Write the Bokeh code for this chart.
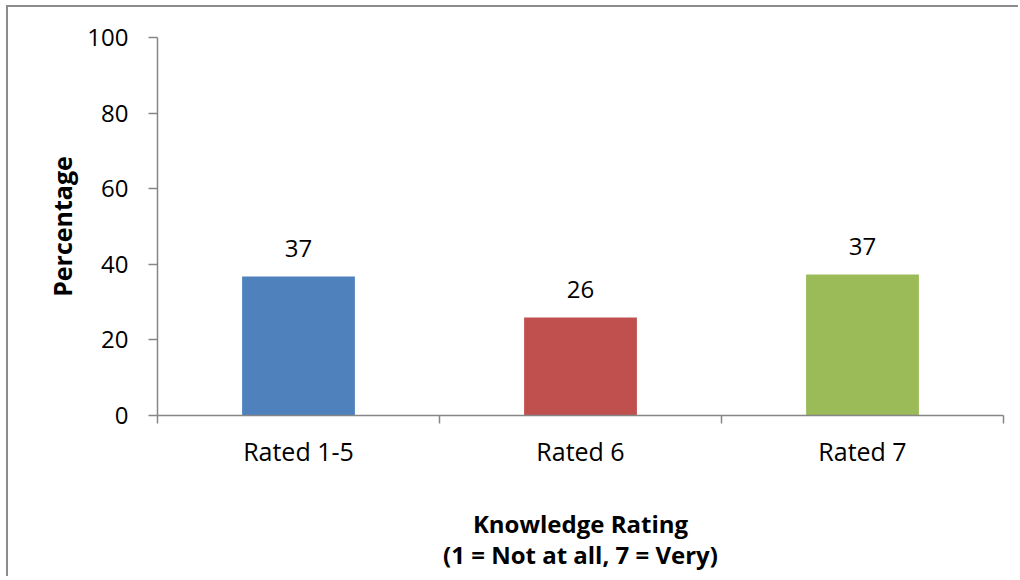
from bokeh.plotting import figure
from bokeh.models import FixedTicker, ColumnDataSource, Range1d
from bokeh.embed import file_html
from bokeh.resources import INLINE
from bokeh.core.properties import value

# ---- data ----
categories = ["Rated 1-5", "Rated 6", "Rated 7"]
percentages = [36.8, 25.9, 37.3]
bar_labels = ["37", "26", "37"]
colors = ["#4F81BD", "#C0504D", "#9BBB59"]
y_ticks = [0, 20, 40, 60, 80, 100]

FONT = "Open Sans"
AXIS_GRAY = "#868686"

xs = [i + 0.5 for i in range(len(categories))]
src = ColumnDataSource(dict(x=xs, top=percentages, color=colors, label=bar_labels))

p = figure(width=1012, height=571, output_backend="svg", toolbar_location=None,
           x_range=Range1d(0, len(categories)), y_range=Range1d(0, 100),
           min_border_left=149, min_border_right=17, min_border_top=30, min_border_bottom=163)

p.vbar(x="x", top="top", width=0.4, color="color", source=src, line_color=None)
p.text(x="x", y="top", text="label", source=src, text_align="center", text_baseline="alphabetic",
       y_offset=-28, text_font=value(FONT), text_font_size="24px", text_color="black")

p.xgrid.visible = False
p.ygrid.visible = False
p.outline_line_color = None
p.background_fill_color = "white"
p.border_fill_color = "white"

# y axis
ya = p.yaxis[0]
ya.ticker = FixedTicker(ticks=y_ticks, minor_ticks=[])
ya.axis_line_color = AXIS_GRAY
ya.axis_line_width = 1.5
ya.major_tick_line_color = AXIS_GRAY
ya.major_tick_line_width = 1.5
ya.major_tick_in = 0
ya.major_tick_out = 9
ya.minor_tick_line_color = None
ya.major_label_standoff = 20
ya.major_label_text_font = FONT
ya.major_label_text_font_size = "24px"
ya.major_label_text_color = "black"
ya.axis_label = "Percentage"
ya.axis_label_text_font = FONT
ya.axis_label_text_font_size = "25px"
ya.axis_label_text_font_style = "bold"
ya.axis_label_text_color = "black"
ya.axis_label_standoff = 5

# x axis: labels at centers, ticks at category boundaries
xa = p.xaxis[0]
xa.ticker = FixedTicker(ticks=xs, minor_ticks=list(range(len(categories) + 1)))
xa.major_label_overrides = {x: c for x, c in zip(xs, categories)}
xa.axis_line_color = AXIS_GRAY
xa.axis_line_width = 1.5
xa.major_tick_line_color = None
xa.major_tick_in = 0
xa.major_tick_out = 8
xa.minor_tick_line_color = AXIS_GRAY
xa.minor_tick_line_width = 1.5
xa.minor_tick_in = 0
xa.minor_tick_out = 8
xa.major_label_standoff = 10
xa.major_label_text_font = FONT
xa.major_label_text_font_size = "25px"
xa.major_label_text_color = "black"
xa.axis_label = "Knowledge Rating\n(1 = Not at all, 7 = Very)"
xa.axis_label_text_font = FONT
xa.axis_label_text_font_size = "24px"
xa.axis_label_text_font_style = "bold"
xa.axis_label_text_color = "black"
xa.axis_label_standoff = 36
xa.axis_label_text_line_height = 0.95

p.styles = {"border-left": "2px solid #8C8C8C", "border-top": "2px solid #8C8C8C",
            "margin-left": "6px", "margin-top": "5px"}

open("out.html", "w").write(file_html(p, INLINE))
